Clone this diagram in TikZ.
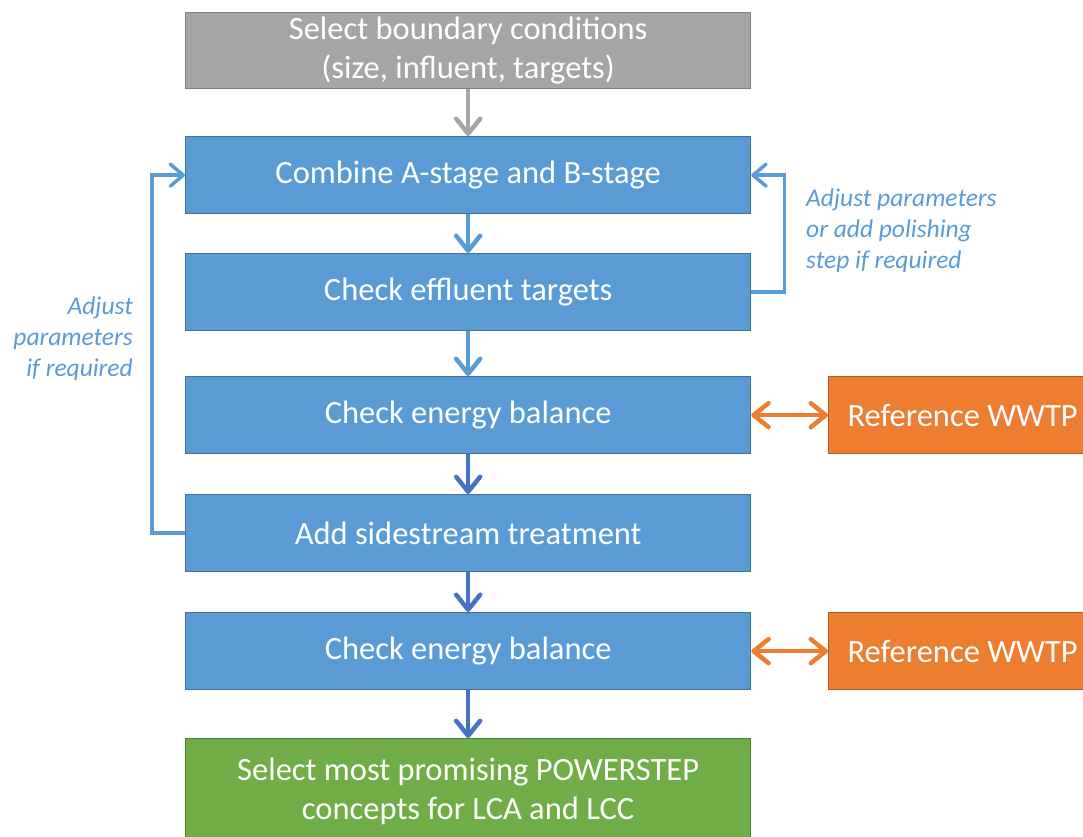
\documentclass[tikz,border=0pt]{standalone}
\usepackage{fontspec}
\setmainfont{Carlito}
\usetikzlibrary{arrows.meta}
\definecolor{gfill}{HTML}{A5A5A5}
\definecolor{gbord}{HTML}{7F7F7F}
\definecolor{bfill}{HTML}{5B9BD5}
\definecolor{bbord}{HTML}{41719C}
\definecolor{dblue}{HTML}{4472C4}
\definecolor{ofill}{HTML}{ED7D31}
\definecolor{obord}{HTML}{AE5A21}
\definecolor{grfill}{HTML}{70AD47}
\definecolor{grbord}{HTML}{507E32}
\begin{document}
\begin{tikzpicture}[x=1pt,y=-1pt,
  boxbase/.style={line width=1.3pt, text=white, inner sep=0pt, align=center,
    font=\fontsize{32.5}{39}\selectfont, anchor=north west},
  graybox/.style={boxbase, draw=gbord, fill=gfill, minimum width=565pt, minimum height=76pt},
  bluebox/.style={boxbase, draw=bbord, fill=bfill, minimum width=565pt, minimum height=77pt},
  orangebox/.style={boxbase, draw=obord, fill=ofill, minimum width=268pt, minimum height=77pt},
  greenbox/.style={boxbase, draw=grbord, fill=grfill, minimum width=565pt, minimum height=106pt},
  tip/.style={-{Straight Barb[length=15pt,width=24pt,line cap=round,line join=round]}},
  arr/.style={line width=4.5pt, tip},
  garrow/.style={arr, draw=gfill},
  larrow/.style={arr, draw=bfill},
  darrow/.style={arr, draw=dblue},
  loop/.style={line width=3.5pt, draw=bfill, line join=miter, -{Straight Barb[length=13pt,width=22pt,line cap=round,line join=round]}},
  oarrow/.style={line width=4.5pt, draw=ofill, {Straight Barb[length=15pt,width=24pt,line cap=round,line join=round]}-{Straight Barb[length=15pt,width=24pt,line cap=round,line join=round]}},
  lbl/.style={text=bfill, inner sep=0pt, font=\fontsize{25.5}{31}\selectfont\itshape}
]
\useasboundingbox (0,0) rectangle (1083,836);
\node[graybox] (sel) at (185,12) {Select boundary conditions\\(size, influent, targets)};
\node[bluebox] (comb) at (185,136) {Combine A-stage and B-stage};
\node[bluebox] (eff) at (185,253) {Check effluent targets};
\node[bluebox] (en1) at (185,376) {Check energy balance};
\node[bluebox] (side) at (185,494) {Add sidestream treatment};
\node[bluebox] (en2) at (185,612) {Check energy balance};
\node[greenbox] (fin) at (185,738) {Select most promising POWERSTEP\\concepts for LCA and LCC};
\node[orangebox] (ref1) at (828,376) {Reference WWTP};
\node[orangebox] (ref2) at (828,612) {Reference WWTP};

\draw[garrow] (sel.south) -- (comb.north);
\draw[larrow] (comb.south) -- (eff.north);
\draw[larrow] (eff.south) -- (en1.north);
\draw[darrow] (en1.south) -- (side.north);
\draw[darrow] (side.south) -- (en2.north);
\draw[darrow] (en2.south) -- (fin.north);
\draw[oarrow] (en1.east) -- (ref1.west);
\draw[oarrow] (en2.east) -- (ref2.west);

\draw[loop] (eff.east) -- ++(33,0) |- (comb.east);
\draw[loop] (side.west) -- ++(-33,0) |- (comb.west);

\node[lbl, anchor=north west, align=left] (l1) at (806,189) {Adjust parameters\\or add polishing\\step if required};
\node[lbl, anchor=north east, align=right] (l2) at (133,297) {Adjust\\parameters\\if required};
\end{tikzpicture}
\end{document}
